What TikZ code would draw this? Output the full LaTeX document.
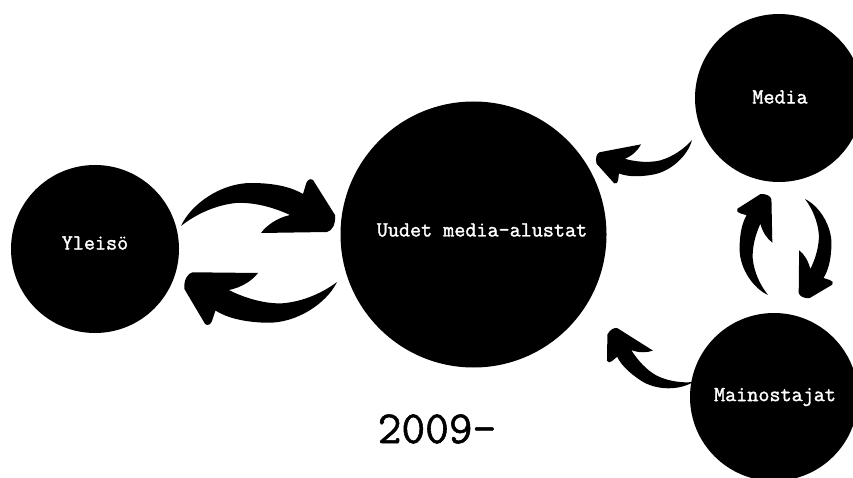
\documentclass[tikz,border=0pt]{standalone}
\usepackage{fontspec}
\newfontfamily\typefont{Latin Modern Mono}[FakeBold=1.6]
\newfontfamily\yearfont{Latin Modern Mono}[FakeBold=1.2]
\begin{document}
\begin{tikzpicture}[x=1pt,y=1pt,
  blob/.style={circle,fill=black,inner sep=0pt},
  lbl/.style={text=white,font=\typefont\fontsize{21.5}{24}\selectfont,inner sep=0pt},
  swoosh/.pic={
    \fill[black] (0,0) .. controls (10,22) and (40,43) .. (70,43)
      .. controls (96,43) and (112,38) .. (122,32) -- (125,42)
      .. controls (126,46) and (129,48) .. (132,46) -- (154,11)
      .. controls (155,2) and (151,-5) .. (146,-6) -- (80,-7)
      .. controls (86,1) and (96,8) .. (109,11)
      .. controls (92,19) and (72,24) .. (55,23)
      .. controls (35,21) and (15,12) .. (0,0) -- cycle;
  }]
\useasboundingbox (0,0) rectangle (853,477);
\clip (0,0) rectangle (853,477);
% circles
\node[blob,minimum size=168pt] (yleiso) at (95,228) {};
\node[blob,minimum size=266pt] (hub) at (473.5,242.5) {};
\node[blob,minimum size=168pt] (media) at (779,379) {};
\node[blob,minimum size=168pt] (mainos) at (774,80) {};
% labels
\node[lbl] (tyleiso) at (95,234) {Yleisö};
\node[lbl] (thub) at (482,247) {Uudet media-alustat};
\node[lbl] (tmedia) at (780,380) {Media};
\node[lbl] (tmainos) at (775,80) {Mainostajat};
\node[anchor=base,inner sep=0pt,font=\yearfont\fontsize{46}{50}\selectfont] (year) at (437,34) {2009-};
% arrows
\pic[rotate=0] at (181,251) {swoosh};
\pic[rotate=178.5,scale=0.99] at (337,195) {swoosh};
\pic[rotate=189.9,scale=0.637] at (692,337) {swoosh};
\pic[rotate=146.9,scale=0.634] at (693,95) {swoosh};
\pic[rotate=90.3,scale=0.655] at (768,182) {swoosh};
\pic[rotate=-91.5,scale=0.643] at (805,278) {swoosh};
\end{tikzpicture}
\end{document}
